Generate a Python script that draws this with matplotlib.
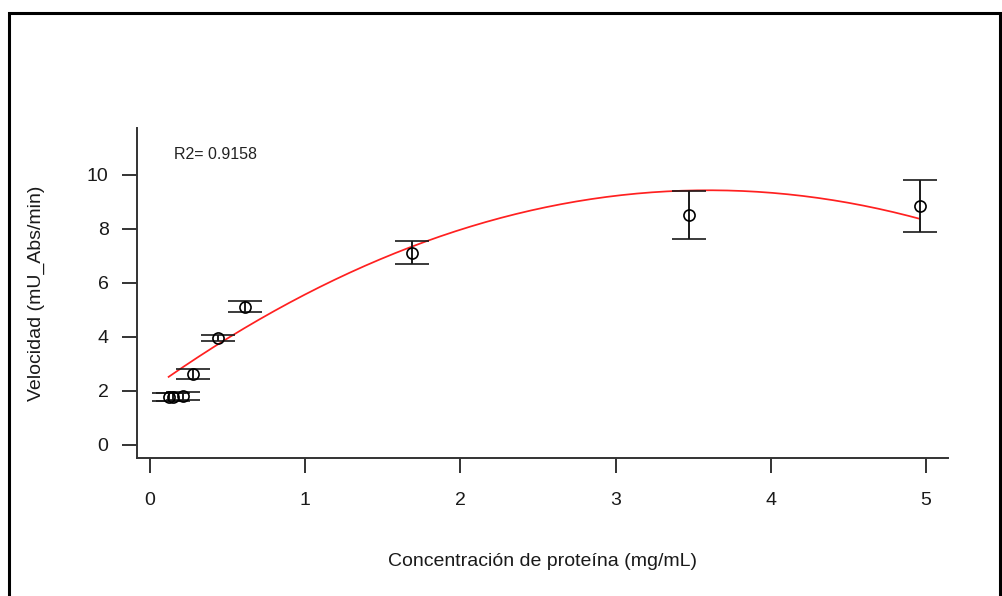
import numpy as np
import matplotlib
matplotlib.use("Agg")
import matplotlib.pyplot as plt
from matplotlib.patches import Rectangle

plt.rcParams['font.family'] = ['Liberation Sans', 'DejaVu Sans']

# data
conc = [0.12, 0.15, 0.21, 0.275, 0.44, 0.61, 1.69, 3.47, 4.96]
vel = [1.76, 1.76, 1.79, 2.61, 3.93, 5.10, 7.10, 8.50, 8.82]
err = [0.16, 0.16, 0.16, 0.19, 0.11, 0.20, 0.43, 0.90, 0.96]
# quadratic fit coefficients (a + b x + c x^2)
fit_a, fit_b, fit_c = 2.02, 4.11, -0.571
r2_text = "R2= 0.9158"
xticks = [0, 1, 2, 3, 4, 5]
yticks = [0, 2, 4, 6, 8, 10]

fig = plt.figure(figsize=(10.03, 5.96), dpi=100)
ax = fig.add_axes([137/1003, 1-458/596, (948-137)/1003, (458-128)/596])

ax.errorbar(conc, vel, yerr=err, fmt='o', mfc='none', mec='black', ms=8,
            mew=1.2, ecolor='#1a1a1a', elinewidth=1.4, capsize=12.5, capthick=1.4,
            color='black', zorder=3)

xf = np.linspace(min(conc), max(conc), 200)
ax.plot(xf, fit_a + fit_b*xf + fit_c*xf**2, color='#ff2020', lw=1.25, zorder=2)

ax.text(0.155, 10.75, r2_text, fontsize=11.5, va='center', ha='left', color='#222222')

x0 = 150; xs = 155.2
y0 = 444.5; ys = 27.0
ax.set_xlim((137-x0)/xs, (948-x0)/xs)
ax.set_ylim((y0-458)/ys, (y0-128)/ys)
ax.set_xticks(xticks)
ax.set_yticks(yticks)
ax.set_xticklabels([str(t) for t in xticks])
ax.set_yticklabels([str(t) for t in yticks])
for s in ['top', 'right']:
    ax.spines[s].set_visible(False)
for s in ['left', 'bottom']:
    ax.spines[s].set_linewidth(1.4)
    ax.spines[s].set_color('#333333')
ax.tick_params(axis='both', length=10.5, width=1.4, color='#333333',
               labelsize=14, labelcolor='#1a1a1a')
ax.tick_params(axis='x', pad=14)
ax.tick_params(axis='y', pad=10)

ax.set_xlabel('Concentración de proteína (mg/mL)', fontsize=14, labelpad=32,
              color='#1a1a1a')
ax.set_ylabel('Velocidad (mU_Abs/min)', fontsize=14, labelpad=30, color='#1a1a1a')

fig.patches.append(Rectangle((9/1003, -0.05), (1000-9)/1003, 1-13/596+0.05,
                             transform=fig.transFigure, fill=False,
                             edgecolor='black', lw=2.2))

fig.savefig('out.png', dpi=100)
